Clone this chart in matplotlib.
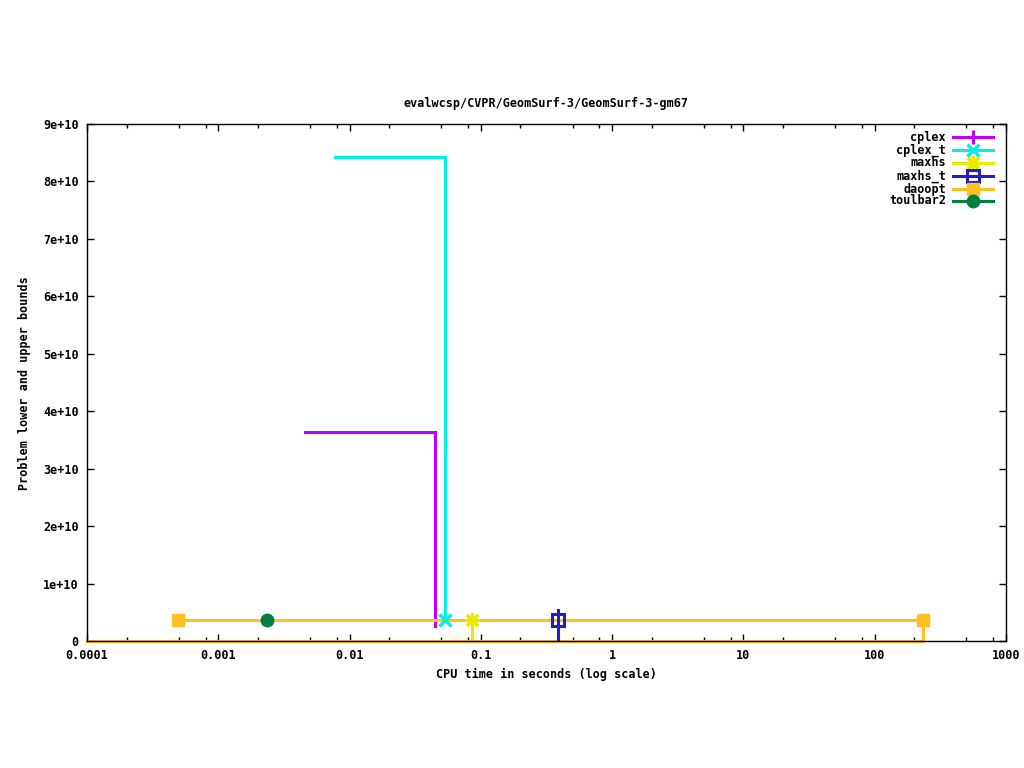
import matplotlib
matplotlib.use("Agg")
import matplotlib.pyplot as plt
from matplotlib.lines import Line2D
from matplotlib.ticker import FixedLocator, NullFormatter, LogLocator

plt.rcParams['font.family'] = ['DejaVu Sans Mono']
plt.rcParams['font.weight'] = 'bold'
FS = 8.5

# ---- data ----
series_names = ["cplex", "cplex_t", "maxhs", "maxhs_t", "daoopt", "toulbar2"]
series_colors = ["#c000ff", "#00eeee", "#e8e800", "#2020c0", "#ffc020", "#008040"]

cplex_x = [0.00457, 0.0447, 0.0447]
cplex_y = [3.64e10, 3.64e10, 2.6e9]

cplex_t_x = [0.00777, 0.0533, 0.0533]
cplex_t_y = [8.43e10, 8.43e10, 3.66e9]
cplex_t_mx = [0.0533]
cplex_t_my = [3.66e9]

maxhs_x = [0.0855, 0.0855]
maxhs_y = [3.66e9, 0.0]
maxhs_mx = [0.0855]
maxhs_my = [3.66e9]

maxhs_t_x = [0.386, 0.386]
maxhs_t_y = [5.4e9, 0.0]
maxhs_t_mx = [0.386]
maxhs_t_my = [3.66e9]

daoopt_up_x = [0.000493, 233]
daoopt_up_y = [3.66e9, 3.66e9]
daoopt_lo_x = [0.0001, 233, 233]
daoopt_lo_y = [0.0, 0.0, 3.66e9]
daoopt_mx = [0.000493, 233]
daoopt_my = [3.66e9, 3.66e9]

toulbar2_mx = [0.00235]
toulbar2_my = [3.66e9]

x_ticks = [0.0001, 0.001, 0.01, 0.1, 1, 10, 100, 1000]
x_tick_labels = ["0.0001", "0.001", "0.01", "0.1", "1", "10", "100", "1000"]
y_ticks = [0, 1e10, 2e10, 3e10, 4e10, 5e10, 6e10, 7e10, 8e10, 9e10]
y_tick_labels = ["0", "1e+10", "2e+10", "3e+10", "4e+10", "5e+10", "6e+10", "7e+10", "8e+10", "9e+10"]

title = "evalwcsp/CVPR/GeomSurf-3/GeomSurf-3-gm67"
xlabel = "CPU time in seconds (log scale)"
ylabel = "Problem lower and upper bounds"

# ---- figure ----
fig = plt.figure(figsize=(10.24, 7.68), dpi=100)
L, R, T, B = 87, 1006, 124, 641
ax = fig.add_axes([L / 1024, 1 - B / 768, (R - L) / 1024, (B - T) / 768])
ax.set_xscale('log')
ax.set_xlim(1e-4, 1000)
ax.set_ylim(0, 9e10)

lw = 2.2
markers = {
    "cplex": dict(marker='+', ms=10, mew=2.2),
    "cplex_t": dict(marker='x', ms=8, mew=2.5),
    "maxhs": dict(marker=(8, 2, 0), ms=11, mew=2.2),
    "maxhs_t": dict(marker='s', ms=8, mew=2.2, mfc='none'),
    "daoopt": dict(marker='s', ms=9, mew=1),
    "toulbar2": dict(marker='o', ms=9, mew=1),
}
col = dict(zip(series_names, series_colors))

ax.plot(cplex_x, cplex_y, color=col["cplex"], lw=lw, solid_joinstyle='miter')
ax.plot(cplex_t_x, cplex_t_y, color=col["cplex_t"], lw=lw, solid_joinstyle='miter')
ax.plot(daoopt_up_x, daoopt_up_y, color=col["daoopt"], lw=lw)
ax.plot(daoopt_lo_x, daoopt_lo_y, color=col["daoopt"], lw=lw, clip_on=False, zorder=2)
ax.plot(maxhs_x, maxhs_y, color=col["maxhs"], lw=lw)
ax.plot(maxhs_t_x, maxhs_t_y, color=col["maxhs_t"], lw=lw)

ax.plot(cplex_t_mx, cplex_t_my, ls='none', color=col["cplex_t"], **markers["cplex_t"])
ax.plot(maxhs_mx, maxhs_my, ls='none', color=col["maxhs"], **markers["maxhs"])
ax.plot(maxhs_t_mx, maxhs_t_my, ls='none', color=col["maxhs_t"], **markers["maxhs_t"])
ax.plot(daoopt_mx, daoopt_my, ls='none', color=col["daoopt"], **markers["daoopt"])
ax.plot(toulbar2_mx, toulbar2_my, ls='none', color=col["toulbar2"], **markers["toulbar2"])

# ticks
ax.xaxis.set_major_locator(FixedLocator(x_ticks))
ax.set_xticklabels(x_tick_labels, fontsize=FS)
ax.xaxis.set_minor_locator(LogLocator(base=10, subs=[2, 5, 8], numticks=20))
ax.xaxis.set_minor_formatter(NullFormatter())
ax.yaxis.set_major_locator(FixedLocator(y_ticks))
ax.set_yticklabels(y_tick_labels, fontsize=FS)
ax.tick_params(which='both', direction='in', top=True, right=True, width=1)
ax.tick_params(which='major', length=5, pad=6)
ax.tick_params(which='minor', length=3)
for s in ax.spines.values():
    s.set_linewidth(1)

fig.text(546 / 1024, 1 - 103 / 768, title, ha='center', va='center', fontsize=FS)
fig.text(546 / 1024, 1 - 674 / 768, xlabel, ha='center', va='center', fontsize=FS)
fig.text(25 / 1024, 1 - 383 / 768, ylabel, ha='center', va='center', rotation=90, fontsize=FS)

# gnuplot-style legend
leg_y = [137, 150, 163, 176, 189, 201]
for name, py in zip(series_names, leg_y):
    yf = 1 - py / 768
    fig.text(946 / 1024, yf, name, ha='right', va='center', fontsize=FS)
    fig.add_artist(Line2D([953 / 1024, 993 / 1024], [yf, yf], color=col[name], lw=lw,
                          transform=fig.transFigure))
    fig.add_artist(Line2D([973 / 1024], [yf], ls='none', color=col[name],
                          transform=fig.transFigure, **markers[name]))

fig.savefig("out.png", dpi=100)
